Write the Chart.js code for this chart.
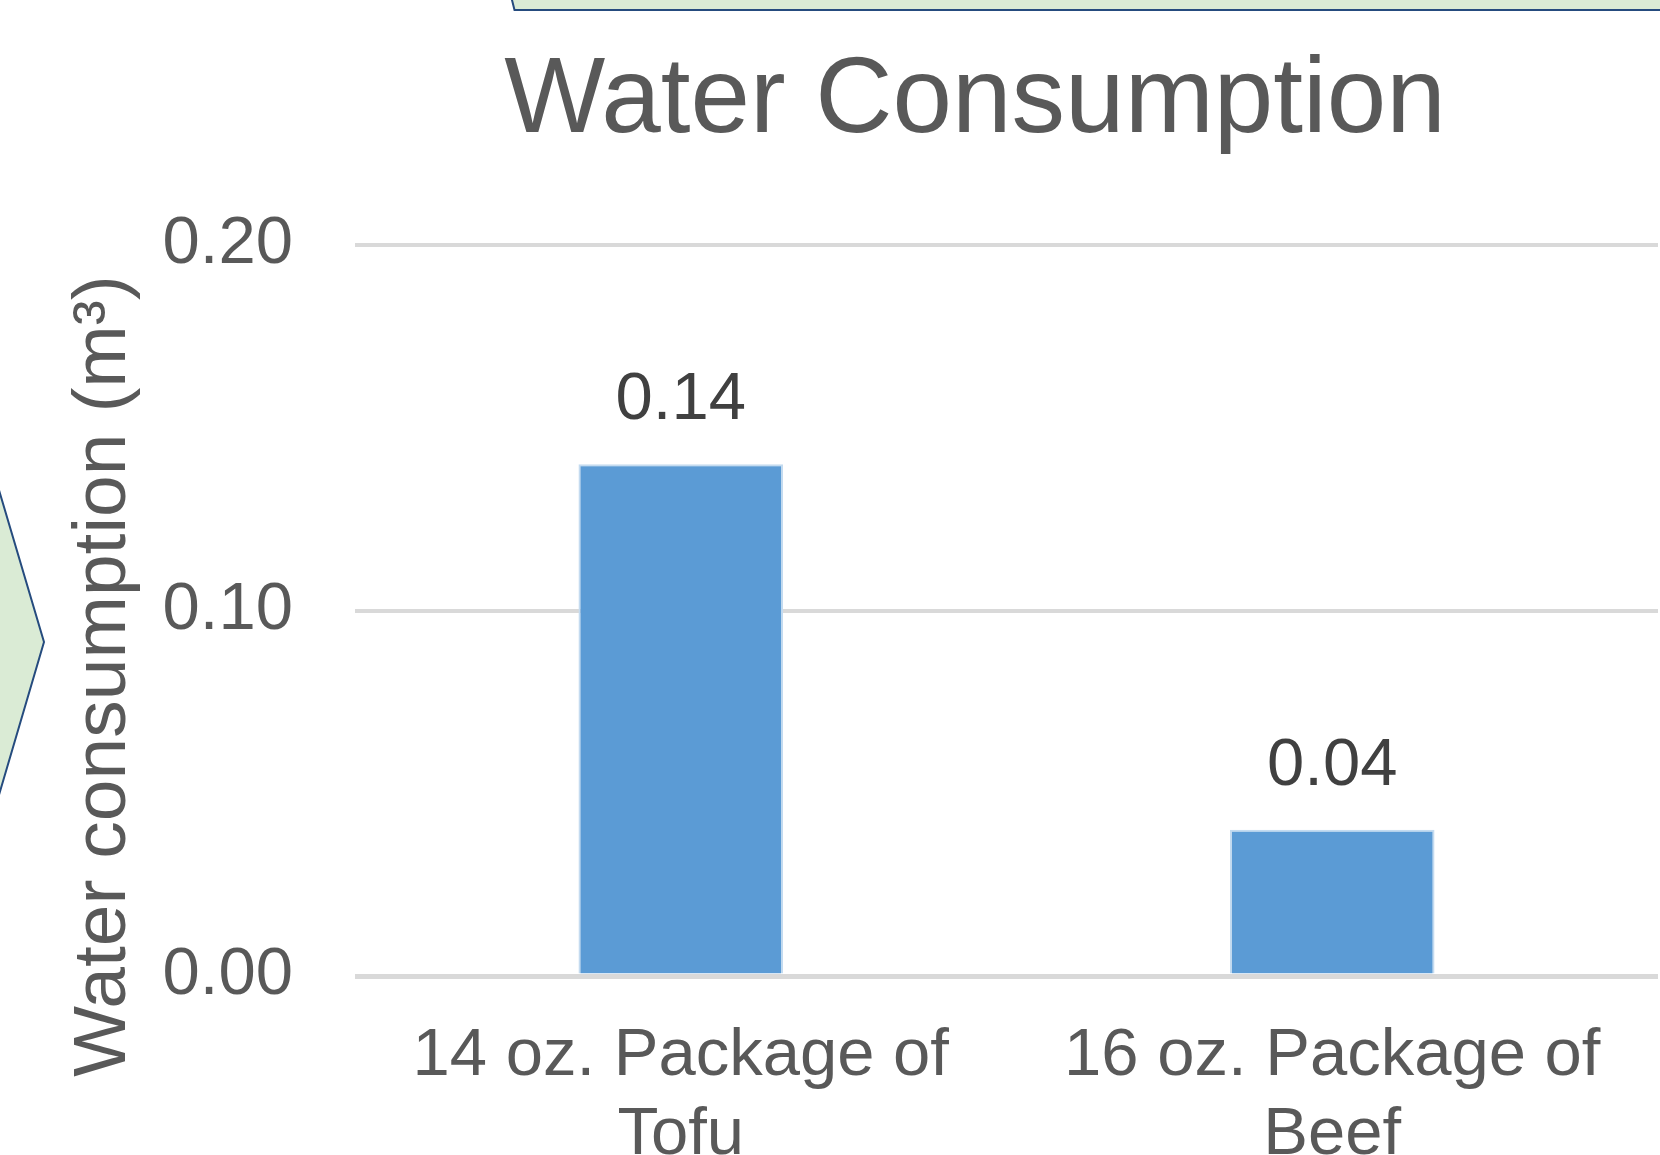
<!DOCTYPE html>
<html>
<head>
<meta charset="utf-8">
<title>Water Consumption</title>
<script src="https://cdn.jsdelivr.net/npm/chart.js@4.4.1/dist/chart.umd.min.js"></script>
<style>
  html, body { margin: 0; padding: 0; background: #ffffff; }
  #wrap { width: 1660px; height: 1155px; position: relative; }
</style>
</head>
<body>
<div id="wrap"><canvas id="chart" width="1660" height="1155"></canvas></div>
<script>
// Data
const categories = [["14 oz. Package of", "Tofu"], ["16 oz. Package of", "Beef"]];
const waterValues = [0.14, 0.04];
const yTicks = [0.00, 0.10, 0.20];

const FONT = "'Liberation Sans', Arial, Helvetica, sans-serif";
const GREEN_FILL = '#DAEBD5';
const SHAPE_LINE = '#254B7E';

// Slide shapes behind the chart: a chevron on the left, a banner along the top
const slideShapes = {
  id: 'slideShapes',
  beforeDraw(chart) {
    const ctx = chart.ctx;
    ctx.save();
    ctx.fillStyle = '#ffffff';
    ctx.fillRect(0, 0, chart.width, chart.height);

    ctx.lineWidth = 2;
    ctx.strokeStyle = SHAPE_LINE;
    ctx.fillStyle = GREEN_FILL;

    // chevron
    ctx.beginPath();
    ctx.moveTo(-4, 480);
    ctx.lineTo(44, 642);
    ctx.lineTo(-4, 805);
    ctx.closePath();
    ctx.fill();
    ctx.stroke();

    // banner
    ctx.beginPath();
    ctx.moveTo(511, -4);
    ctx.lineTo(514.5, 10);
    ctx.lineTo(1664, 10);
    ctx.lineTo(1664, -4);
    ctx.closePath();
    ctx.fill();
    ctx.stroke();
    ctx.restore();
  }
};

// Chart title, rotated axis title and value labels
const annotations = {
  id: 'annotations',
  afterDatasetsDraw(chart) {
    const ctx = chart.ctx;
    ctx.save();

    ctx.fillStyle = '#595959';
    ctx.font = '107px ' + FONT;
    ctx.textAlign = 'center';
    ctx.textBaseline = 'alphabetic';
    ctx.fillText('Water Consumption', 975, 132);

    ctx.save();
    ctx.translate(125, 676);
    ctx.rotate(-Math.PI / 2);
    ctx.font = '75px ' + FONT;
    ctx.fillText('Water consumption (m\u00B3)', 0, 0);
    ctx.restore();

    ctx.fillStyle = '#404040';
    ctx.font = '67px ' + FONT;
    const meta = chart.getDatasetMeta(0);
    meta.data.forEach((bar, i) => {
      const v = chart.data.datasets[0].data[i];
      ctx.fillText(v.toFixed(2), bar.x, bar.y - 45);
    });
    ctx.restore();
  }
};

new Chart(document.getElementById('chart'), {
  type: 'bar',
  data: {
    labels: categories,
    datasets: [{
      data: waterValues,
      backgroundColor: '#5B9BD5',
      borderColor: '#C4DBF0',
      borderWidth: 2,
      borderSkipped: 'start',
      categoryPercentage: 1.0,
      barPercentage: 0.314
    }]
  },
  options: {
    responsive: false,
    animation: false,
    devicePixelRatio: 1,
    layout: { padding: { top: 245, right: 2, bottom: 0, left: 0 } },
    plugins: {
      legend: { display: false },
      title: { display: false },
      tooltip: { enabled: false }
    },
    scales: {
      x: {
        grid: { display: false, drawTicks: false },
        border: { display: false },
        ticks: {
          color: '#595959',
          font: { family: FONT, size: 67, lineHeight: 79 / 67 },
          padding: 41.5,
          maxRotation: 0,
          autoSkip: false
        },
        afterFit(scale) { scale.height = 179; }
      },
      y: {
        min: 0,
        max: 0.2,
        afterBuildTicks(scale) { scale.ticks = yTicks.map(v => ({ value: v })); },
        grid: {
          color: '#D9D9D9',
          lineWidth: (c) => (c.tick && c.tick.value === 0 ? 5 : 4),
          drawTicks: false
        },
        border: { display: false },
        ticks: {
          color: '#595959',
          font: { family: FONT, size: 67 },
          padding: 62,
          callback: (v) => Number(v).toFixed(2)
        },
        afterFit(scale) { scale.width = 355; }
      }
    }
  },
  plugins: [slideShapes, annotations]
});
</script>
</body>
</html>
